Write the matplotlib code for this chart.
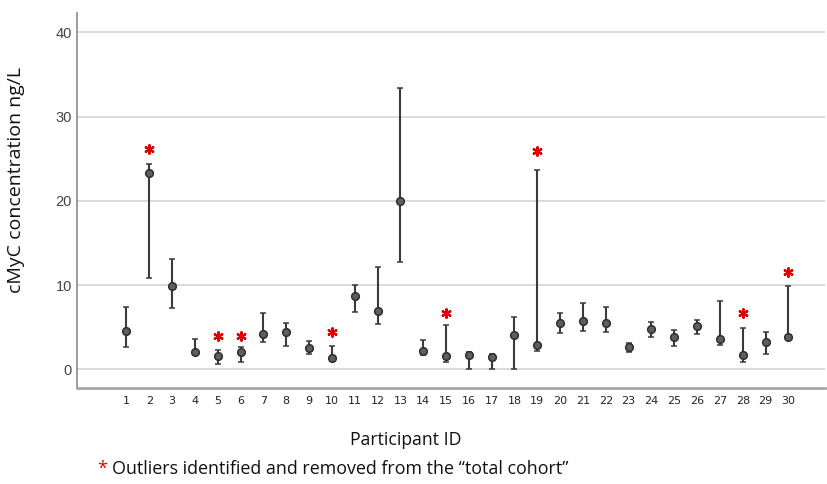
import matplotlib
matplotlib.use("Agg")
import matplotlib.pyplot as plt
import numpy as np

participants = list(range(1, 31))
means = [4.54, 23.3, 9.92, 2.0, 1.54, 2.0, 4.22, 4.42, 2.49, 1.34,
         8.73, 6.88, 19.96, 2.2, 1.54, 1.7, 1.5, 4.07, 2.88, 5.46,
         5.77, 5.53, 2.68, 4.74, 3.8, 5.17, 3.63, 1.7, 3.24, 3.87]
upper = [7.43, 24.35, 13.1, 3.56, 2.33, 2.68, 6.72, 5.49, 3.32, 2.8,
         10.0, 12.1, 33.45, 3.48, 5.29, 2.05, 1.82, 6.17, 23.7, 6.64,
         7.9, 7.43, 3.08, 5.65, 4.66, 5.85, 8.1, 4.94, 4.42, 9.92]
lower = [2.6, 10.9, 7.24, 1.8, 0.63, 0.83, 3.2, 2.76, 1.82, 1.0,
         6.8, 5.41, 12.76, 1.7, 0.87, 0.0, 0.0, 0.0, 2.13, 4.27,
         4.58, 4.39, 2.05, 3.83, 2.76, 4.15, 2.85, 0.87, 1.78, 3.56]
outlier_ids = [2, 5, 6, 10, 15, 19, 28, 30]
outlier_star_y = [26.2, 3.95, 3.95, 4.39, 6.72, 25.9, 6.64, 11.58]
y_ticks = [0, 10, 20, 30, 40]

fig = plt.figure(figsize=(8.27, 4.84), dpi=100)
ax = fig.add_axes([0.0935, 0.199, 0.904, 0.774])

x = np.array(participants)
m = np.array(means)
yerr = np.vstack([m - np.array(lower), np.array(upper) - m])

for yt in y_ticks:
    ax.axhline(yt, color="#d4d4d4", lw=1.2, zorder=0)

ax.errorbar(x, m, yerr=yerr, fmt="o", color="#3a3a3a", ecolor="#3a3a3a",
            elinewidth=1.5, capsize=2.3, capthick=1.5, markersize=5.5,
            markerfacecolor="#5e5e5e", markeredgecolor="#2e2e2e",
            markeredgewidth=1.1, zorder=3)

ax.scatter(outlier_ids, outlier_star_y, marker=(6, 2, 0), s=38,
           color="#e00000", linewidths=1.6, zorder=4)

ax.set_xlim(-1.15, 31.6)
ax.set_ylim(-2.18, 42.3)
ax.set_yticks(y_ticks)
ax.set_xticks(participants)
ax.set_xticklabels([str(p) for p in participants],
                   fontsize=8, color="#222222", family=["Liberation Sans Narrow", "DejaVu Sans"])
ax.tick_params(axis="x", length=0, pad=6)
ax.tick_params(axis="y", length=0, pad=4, labelsize=10.5, labelcolor="#444444")
for lbl in ax.get_yticklabels():
    lbl.set_family(["Liberation Sans", "DejaVu Sans"])

for s in ["top", "right"]:
    ax.spines[s].set_visible(False)
ax.spines["left"].set_color("#8a8a8a")
ax.spines["left"].set_linewidth(1.2)
ax.spines["bottom"].set_color("#a8a8a8")
ax.spines["bottom"].set_linewidth(2)

fig.text(0.019, 0.628, "cMyC concentration ng/L", rotation=90, ha="center", va="center",
         fontsize=14, family=["Open Sans", "DejaVu Sans"], color="#111111")
fig.text(0.49, 0.09, "Participant ID", ha="center", va="center",
         fontsize=12.7, family=["Open Sans", "DejaVu Sans"], color="#111111")
fig.text(0.118, 0.032, "*", ha="left", va="center", fontsize=13,
         family=["Open Sans", "DejaVu Sans"], color="#e00000")
fig.text(0.135, 0.032, "Outliers identified and removed from the \u201ctotal cohort\u201d",
         ha="left", va="center", fontsize=12.9,
         family=["Open Sans", "DejaVu Sans"], color="#111111")

fig.savefig("out.png", dpi=100)
